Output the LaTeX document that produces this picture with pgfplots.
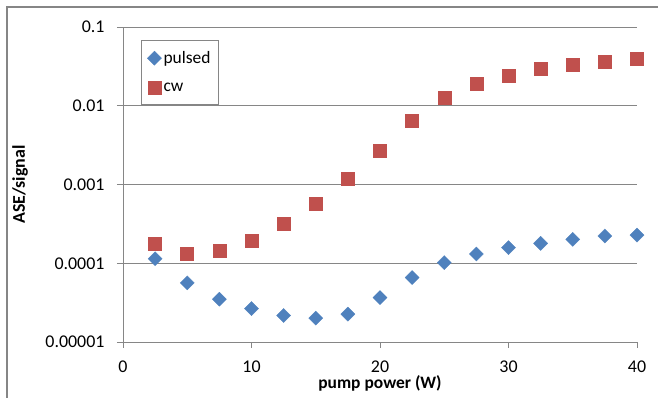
\documentclass[border=0pt]{standalone}
\usepackage{fontspec}
\setmainfont{Carlito}
\usepackage{pgfplots}
\pgfplotsset{compat=1.18}
\definecolor{axgray}{RGB}{134,134,134}
\definecolor{pblue}{RGB}{79,129,189}
\definecolor{cred}{RGB}{192,80,77}
\begin{document}
\begin{tikzpicture}
\useasboundingbox (-123bp,-56bp) rectangle (535bp,342bp);
\draw[axgray, line width=1.2bp] (-116bp,-60bp) -- (-116bp,335bp) -- (540bp,335bp);
\begin{axis}[
  name=ax,
  at={(0,0)}, anchor=south west,
  scale only axis, width=514bp, height=315bp,
  xmin=0, xmax=40, ymin=1e-5, ymax=0.1,
  ymode=log,
  axis x line=bottom, axis y line=left,
  axis line style={-, draw=axgray, line width=0.8bp},
  xtick={0,10,20,30,40}, xticklabels={0,10,20,30,40},
  ytick={1e-5,1e-4,1e-3,1e-2,1e-1},
  yticklabels={0.00001,0.0001,0.001,0.01,0.1},
  yminorticks=false, xminorticks=false,
  tick align=outside, major tick length=6bp,
  tick style={axgray, line width=0.8bp},
  ymajorgrids, grid style={axgray, line width=0.8bp},
  ticklabel style={font=\fontsize{18}{21}\selectfont},
  yticklabel style={xshift=-9bp},
  xticklabel style={yshift=-9bp},
  /pgf/number format/assume math mode=true,
  legend style={at={(rel axis cs:0,1)}, anchor=north west, xshift=18bp, yshift=-13bp,
    draw=axgray, line width=0.8bp, fill=white, font=\fontsize{17.5}{20}\selectfont,
    row sep=14bp, inner xsep=6bp, inner ysep=9bp, nodes={inner xsep=2bp}},
  legend cell align=left,
  legend image code/.code={\draw[mark repeat=2,mark phase=2,#1] plot coordinates {(0bp,0bp)(7bp,0bp)(14bp,0bp)};},
]
\addplot[only marks, mark=square*, mark size=5bp, mark options={rotate=45, fill=pblue, draw=pblue, line width=0.3bp}]
coordinates {
(2.5,1.14e-4) (5,5.64e-5) (7.5,3.5e-5) (10,2.66e-5) (12.5,2.17e-5) (15,2.01e-5)
(17.5,2.26e-5) (20,3.67e-5) (22.5,6.58e-5) (25,1.02e-4) (27.5,1.31e-4) (30,1.58e-4)
(32.5,1.79e-4) (35,2.01e-4) (37.5,2.22e-4) (40,2.28e-4)
};
\addlegendentry{pulsed}
\addplot[only marks, mark=square*, mark size=6.5bp, mark options={fill=cred, draw=cred, line width=0.5bp}]
coordinates {
(2.5,1.75e-4) (5,1.31e-4) (7.5,1.43e-4) (10,1.92e-4) (12.5,3.16e-4) (15,5.65e-4)
(17.5,1.17e-3) (20,2.66e-3) (22.5,6.4e-3) (25,1.26e-2) (27.5,1.89e-2) (30,2.39e-2)
(32.5,2.93e-2) (35,3.35e-2) (37.5,3.6e-2) (40,3.93e-2)
};
\addlegendentry{cw}
\end{axis}
\node[rotate=90, font=\fontsize{18}{21}\selectfont\bfseries] at (-103bp,157.5bp) {ASE/signal};
\node[font=\fontsize{17.5}{21}\selectfont\bfseries] at (257bp,-41bp) {pump power (W)};
\end{tikzpicture}
\end{document}
